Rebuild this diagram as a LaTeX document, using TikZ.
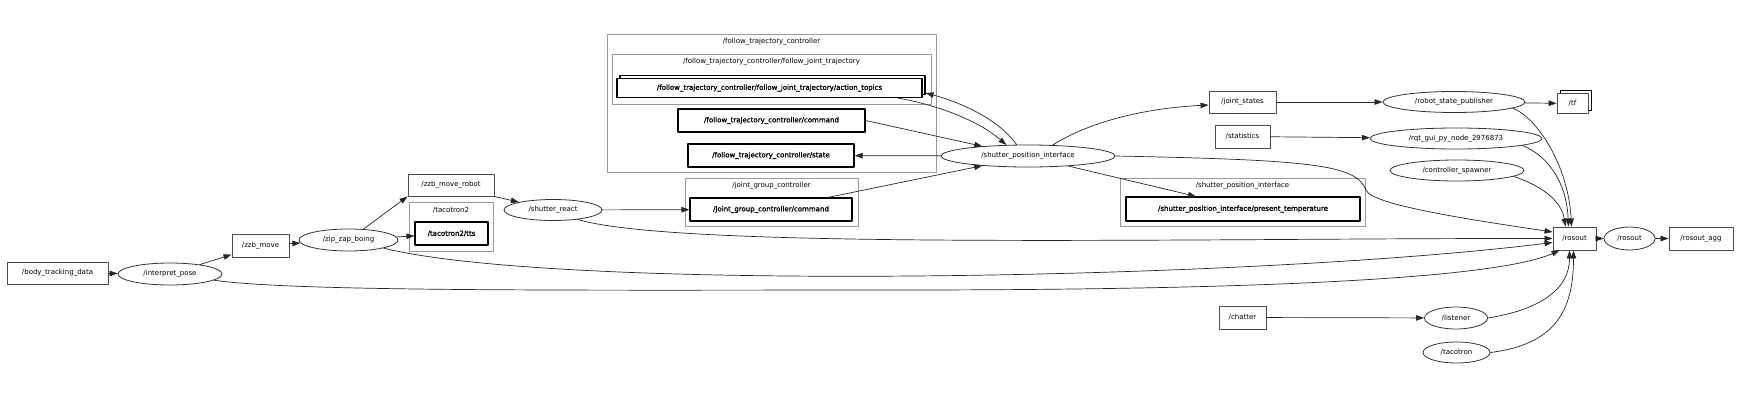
\documentclass[tikz,border=0pt]{standalone}
\usepackage{fontspec}
\setmainfont{DejaVu Sans}
\newfontfamily\boldtopic[FakeBold=1.5]{DejaVu Sans}
\usetikzlibrary{arrows.meta, calc, shapes.geometric, shadows}

\begin{document}
\begin{tikzpicture}[x=1pt, y=-1pt, line cap=round, line join=round,
	every node/.style={font=\fontsize{7}{8}\selectfont, inner sep=0pt},
	topic/.style={rectangle, draw=black!70, line width=0.9pt, minimum height=22pt},
	ctopic/.style={rectangle, draw=black, line width=1.2pt, minimum height=23pt, font=\boldtopic\fontsize{7}{8}\selectfont},
	rosnode/.style={ellipse, draw=black!80, line width=0.8pt, minimum height=22pt},
	box3d/.style={fill=white, copy shadow={shadow xshift=3pt, shadow yshift=3pt, draw=black, fill=white}},
	cluster/.style={draw=black!40, line width=1pt},
	edge/.style={draw=black!85, line width=0.7pt, -{Triangle[length=8pt, width=5.5pt]}}]
	\useasboundingbox (0,0) rectangle (1745,402);
	
	% clusters
	\draw[cluster] (607,34) rectangle (936,172);
	\node (ftc label) at (771.5,42) {/follow\_trajectory\_controller};
	\draw[cluster] (612,54) rectangle (931,104);
	\node (fjt label) at (771.5,62) {/follow\_trajectory\_controller/follow\_joint\_trajectory};
	\draw[cluster] (409,202) rectangle (493,251);
	\node (tacotron2 label) at (451,210) {/tacotron2};
	\draw[cluster] (685,178) rectangle (858,226);
	\node (jgc label) at (771.5,186) {/joint\_group\_controller};
	\draw[cluster] (1120,178) rectangle (1365,226);
	\node (spi label) at (1242.5,186) {/shutter\_position\_interface};
	
	% topics and nodes
	\node[topic, minimum width=101pt] (body tracking) at (57.5,273) {/body\_tracking\_data};
	\node[rosnode, minimum width=104pt] (interpret pose) at (170,274) {/interpret\_pose};
	\node[topic, minimum width=57pt, minimum height=23pt] (zzb move) at (260.5,245.5) {/zzb\_move};
	\node[rosnode, minimum width=99pt] (zip zap) at (348.5,240) {/zip\_zap\_boing};
	\node[topic, minimum width=86pt] (zzb move robot) at (451,185) {/zzb\_move\_robot};
	\node[ctopic, minimum width=73pt] (tts) at (451.5,233.5) {/tacotron2/tts};
	\node[rosnode, minimum width=98pt, minimum height=21pt] (shutter react) at (553,210) {/shutter\_react};
	\node[ctopic, minimum width=162pt] (jgc command) at (771,209.5) {/joint\_group\_controller/command};
	\node[ctopic, box3d, minimum width=305pt, minimum height=19pt] (action topics) at (769.5,88) {/follow\_trajectory\_controller/follow\_joint\_trajectory/action\_topics};
	\node[ctopic, minimum width=187pt] (ftc command) at (771.5,120.5) {/follow\_trajectory\_controller/command};
	\node[ctopic, minimum width=166pt] (ftc state) at (771,155.5) {/follow\_trajectory\_controller/state};
	\node[rosnode, minimum width=174pt] (spi) at (1028,156) {/shutter\_position\_interface};
	\node[ctopic, minimum width=234pt, minimum height=24pt] (temperature) at (1243,209) {/shutter\_position\_interface/present\_temperature};
	\node[topic, minimum width=67pt] (joint states) at (1242.5,102) {/joint\_states};
	\node[topic, minimum width=55pt, minimum height=23pt] (statistics) at (1242.5,136.5) {/statistics};
	\node[topic, minimum width=47pt, minimum height=23pt] (chatter) at (1242.5,317.5) {/chatter};
	\node[rosnode, minimum width=142pt, minimum height=21pt] (rsp) at (1454,102) {/robot\_state\_publisher};
	\node[topic, box3d, minimum width=31pt, minimum height=20pt] (tf) at (1572.5,103.5) {/tf};
	\node[rosnode, minimum width=172pt, minimum height=21pt] (rqt) at (1456,138.5) {/rqt\_gui\_py\_node\_2976873};
	\node[rosnode, minimum width=134pt, minimum height=21pt] (spawner) at (1457,170.5) {/controller\_spawner};
	\node[topic, minimum width=43pt, minimum height=23pt] (rosout topic) at (1574.5,238.5) {/rosout};
	\node[rosnode, minimum width=51pt, minimum height=23pt] (rosout) at (1629.5,238.5) {/rosout};
	\node[topic, minimum width=64pt, minimum height=23pt] (rosout agg) at (1701,238.5) {/rosout\_agg};
	\node[rosnode, minimum width=63pt] (listener) at (1456,318) {/listener};
	\node[rosnode, minimum width=67pt, minimum height=21pt] (tacotron) at (1456.5,352.5) {/tacotron};
	
	% connections
	\draw[edge] (body tracking) -- (interpret pose);
	\draw[edge] (interpret pose) -- (zzb move);
	\draw[edge] (zzb move) -- (zip zap);
	\draw[edge] (zip zap.36) -- (zzb move robot.south west);
	\draw[edge] (zip zap) -- (tts);
	\draw[edge] (zzb move robot.south east) -- (shutter react.167);
	\draw[edge] (shutter react) -- (jgc command);
	\draw[edge] ($(jgc command.north)!0.7!(jgc command.north east)$) -- (spi.192);
	\draw[edge] (ftc command.east) -- (spi.168);
	\draw[edge] (spi) -- (ftc state);
	\draw[edge] ($(action topics.south)!0.84!(action topics.south east)$) .. controls +(45,8) and +(-25,-22) .. (spi.153);
	\draw[edge] (spi.135) .. controls +(-20,-28) and +(30,8) .. ($(action topics.east)+(3,5)$);
	\draw[edge] (spi.24) .. controls +(40,-25) and +(-60,3) .. ($(joint states.west)+(0,3)$);
	\draw[edge] (spi.-14) -- ($(temperature.north)+(-47,0)$);
	\draw[edge] (spi.east) .. controls +(200,4) and +(-10,-25) .. (1366,190) .. controls +(5,15) and +(-80,-12) .. ($(rosout topic.west)+(0,-6.5)$);
	\draw[edge] (joint states) -- (rsp);
	\draw[edge] (rsp) -- (tf);
	\draw[edge] (statistics) -- (rqt);
	\draw[edge] (chatter) -- (listener);
	\draw[edge] (rosout topic) -- (rosout);
	\draw[edge] (rosout) -- (rosout agg);
	\draw[edge] (rsp.-6) .. controls +(25,10) and +(-3,-60) .. ($(rosout topic.north)+(-3,0)$);
	\draw[edge] (rqt.-6) .. controls +(25,10) and +(-2,-45) .. ($(rosout topic.north)+(-6,0)$);
	\draw[edge] (spawner.-6) .. controls +(30,10) and +(-4,-25) .. ($(rosout topic.north)+(-9,0)$);
	\draw[edge] (shutter react.-21) .. controls (680,250) and (1200,238) .. (rosout topic.west);
	\draw[edge] (zip zap.-13) .. controls (560,292) and (1250,280) .. ($(rosout topic.west)+(0,4)$);
	\draw[edge] (interpret pose.-8) .. controls +(80,12) and +(-300,0) .. (900,290) .. controls +(450,0) and +(-50,22) .. ($(rosout topic.south west)+(7,0)$);
	\draw[edge] (listener.east) .. controls +(50,-8) and +(0,40) .. ($(rosout topic.south)+(-5,0)$);
	\draw[edge] (tacotron.east) .. controls +(65,-8) and +(0,60) .. ($(rosout topic.south)+(-1,0)$);
\end{tikzpicture}
\end{document}
